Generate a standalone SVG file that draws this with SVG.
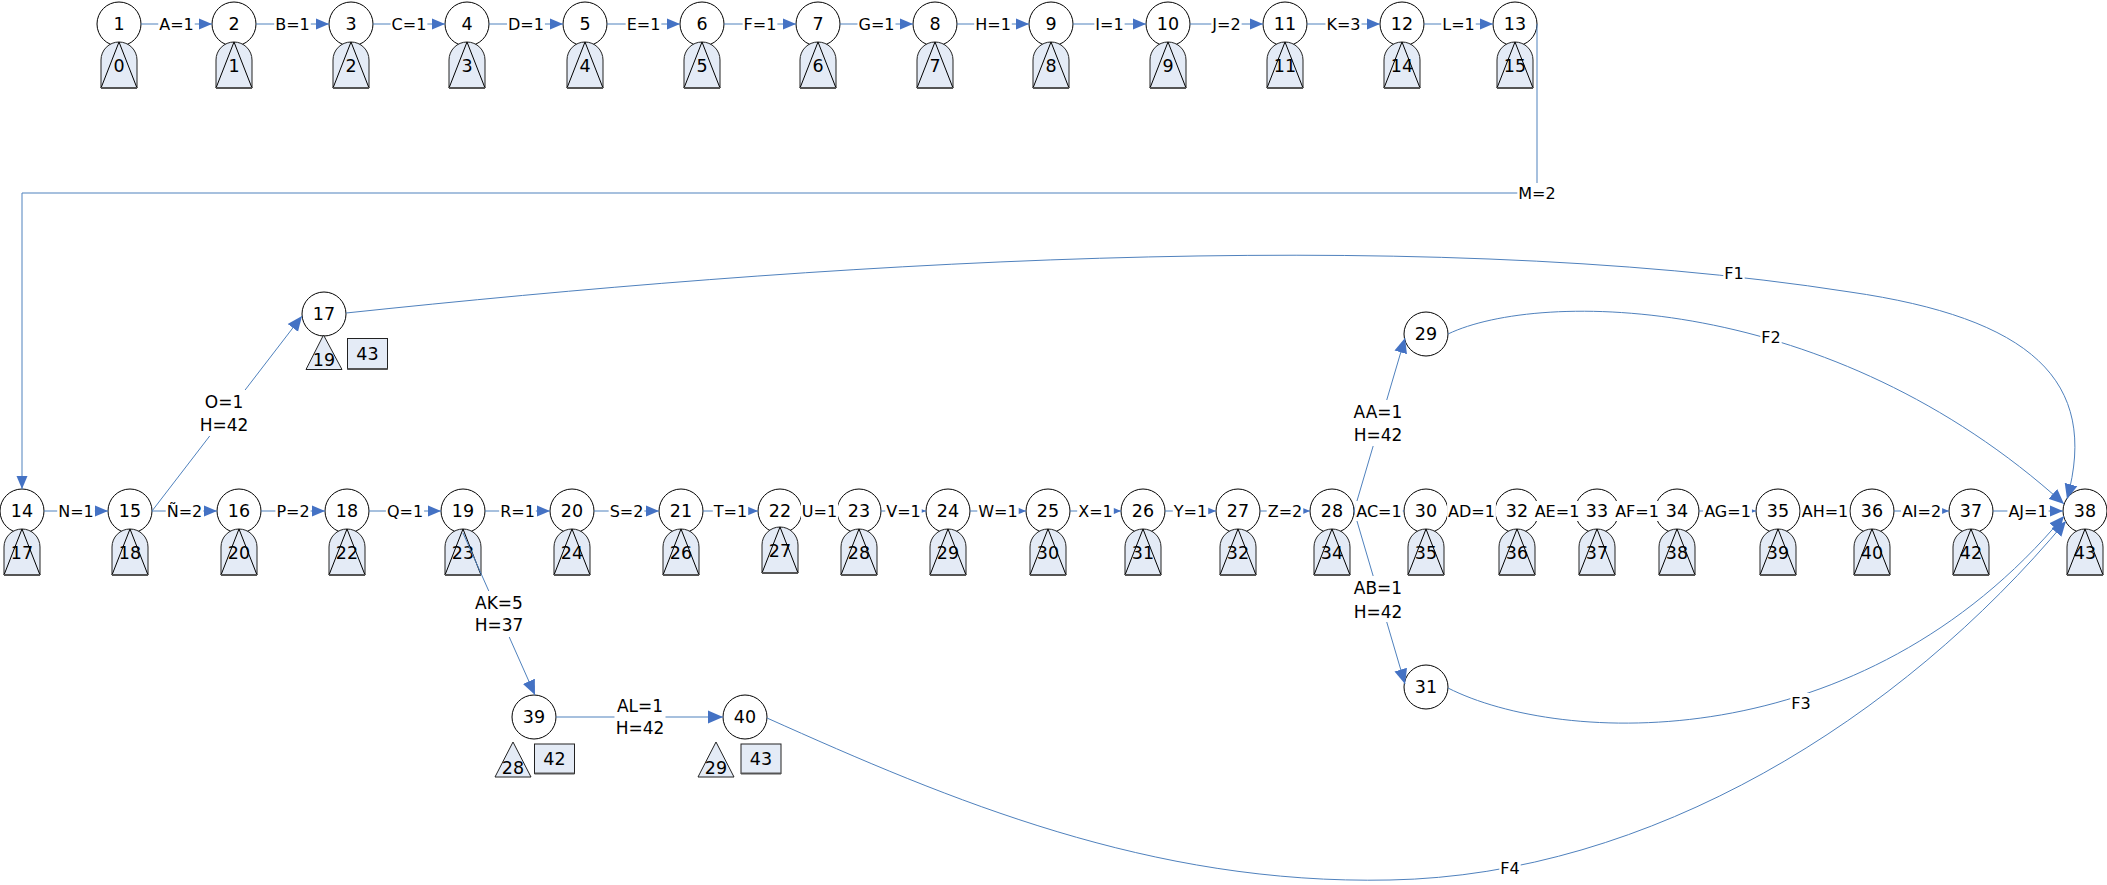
<svg xmlns="http://www.w3.org/2000/svg" xmlns:xlink="http://www.w3.org/1999/xlink" width="2107" height="885" viewBox="0 0 2107 885">
<style>
text{font-family:"DejaVu Sans","Liberation Sans",Arial,sans-serif;font-size:16px;fill:#000;text-anchor:middle}
text.n{font-size:17.5px}
text.l2{font-size:17px}
.c{fill:#fff;stroke:#000;stroke-width:1}
.tb{fill:#E4EBF6;stroke:#222;stroke-width:1}
.tl{fill:none;stroke:#000;stroke-width:1}
.sh{fill:none;stroke:#555;stroke-width:2}
.ea{fill:none;stroke:#4F81BD;stroke-width:1;marker-end:url(#ah)}
.eL{fill:none;stroke:#4F81BD;stroke-width:1;marker-end:url(#ahL)}
.lb{fill:#fff;stroke:none}
</style>
<defs>
<marker id="ah" markerUnits="userSpaceOnUse" markerWidth="14" markerHeight="12" refX="13" refY="6" orient="auto"><path d="M0,0.5 L13,6 L0,11.5 Z" fill="#4472C4"/></marker>
<marker id="ahL" markerUnits="userSpaceOnUse" markerWidth="16" markerHeight="14" refX="15" refY="7" orient="auto"><path d="M0,0.5 L15,7 L0,13.5 Z" fill="#4472C4"/></marker>
<g id="ts">
<path class="tb" d="M-18,64 V36 A18,18 0 0 1 18,36 V64 Z"/>
<path class="tl" d="M-18,64 L0,18 L18,64"/>
<path class="sh" d="M-18,64 H18"/>
</g>
</defs>
<rect width="2107" height="885" fill="#fff"/>

<!-- top row nodes -->
<g id="n1"><circle class="c" cx="119" cy="24" r="22"/><text class="n" x="119" y="30.4">1</text><use href="#ts" x="119" y="24"/><text class="n" x="119" y="71.9">0</text></g>
<g id="n2"><circle class="c" cx="234" cy="24" r="22"/><text class="n" x="234" y="30.4">2</text><use href="#ts" x="234" y="24"/><text class="n" x="234" y="71.9">1</text></g>
<g id="n3"><circle class="c" cx="351" cy="24" r="22"/><text class="n" x="351" y="30.4">3</text><use href="#ts" x="351" y="24"/><text class="n" x="351" y="71.9">2</text></g>
<g id="n4"><circle class="c" cx="467" cy="24" r="22"/><text class="n" x="467" y="30.4">4</text><use href="#ts" x="467" y="24"/><text class="n" x="467" y="71.9">3</text></g>
<g id="n5"><circle class="c" cx="585" cy="24" r="22"/><text class="n" x="585" y="30.4">5</text><use href="#ts" x="585" y="24"/><text class="n" x="585" y="71.9">4</text></g>
<g id="n6"><circle class="c" cx="702" cy="24" r="22"/><text class="n" x="702" y="30.4">6</text><use href="#ts" x="702" y="24"/><text class="n" x="702" y="71.9">5</text></g>
<g id="n7"><circle class="c" cx="818" cy="24" r="22"/><text class="n" x="818" y="30.4">7</text><use href="#ts" x="818" y="24"/><text class="n" x="818" y="71.9">6</text></g>
<g id="n8"><circle class="c" cx="935" cy="24" r="22"/><text class="n" x="935" y="30.4">8</text><use href="#ts" x="935" y="24"/><text class="n" x="935" y="71.9">7</text></g>
<g id="n9"><circle class="c" cx="1051" cy="24" r="22"/><text class="n" x="1051" y="30.4">9</text><use href="#ts" x="1051" y="24"/><text class="n" x="1051" y="71.9">8</text></g>
<g id="n10"><circle class="c" cx="1168" cy="24" r="22"/><text class="n" x="1168" y="30.4">10</text><use href="#ts" x="1168" y="24"/><text class="n" x="1168" y="71.9">9</text></g>
<g id="n11"><circle class="c" cx="1285" cy="24" r="22"/><text class="n" x="1285" y="30.4">11</text><use href="#ts" x="1285" y="24"/><text class="n" x="1285" y="71.9">11</text></g>
<g id="n12"><circle class="c" cx="1402" cy="24" r="22"/><text class="n" x="1402" y="30.4">12</text><use href="#ts" x="1402" y="24"/><text class="n" x="1402" y="71.9">14</text></g>
<g id="n13"><circle class="c" cx="1515" cy="24" r="22"/><text class="n" x="1515" y="30.4">13</text><use href="#ts" x="1515" y="24"/><text class="n" x="1515" y="71.9">15</text></g>

<!-- middle row nodes -->
<g id="n14"><circle class="c" cx="22" cy="511" r="22"/><text class="n" x="22" y="517.4">14</text><use href="#ts" x="22" y="511"/><text class="n" x="22" y="558.9">17</text></g>
<g id="n15"><circle class="c" cx="130" cy="511" r="22"/><text class="n" x="130" y="517.4">15</text><use href="#ts" x="130" y="511"/><text class="n" x="130" y="558.9">18</text></g>
<g id="n16"><circle class="c" cx="239" cy="511" r="22"/><text class="n" x="239" y="517.4">16</text><use href="#ts" x="239" y="511"/><text class="n" x="239" y="558.9">20</text></g>
<g id="n18"><circle class="c" cx="347" cy="511" r="22"/><text class="n" x="347" y="517.4">18</text><use href="#ts" x="347" y="511"/><text class="n" x="347" y="558.9">22</text></g>
<g id="n19"><circle class="c" cx="463" cy="511" r="22"/><text class="n" x="463" y="517.4">19</text><use href="#ts" x="463" y="511"/><text class="n" x="463" y="558.9">23</text></g>
<g id="n20"><circle class="c" cx="572" cy="511" r="22"/><text class="n" x="572" y="517.4">20</text><use href="#ts" x="572" y="511"/><text class="n" x="572" y="558.9">24</text></g>
<g id="n21"><circle class="c" cx="681" cy="511" r="22"/><text class="n" x="681" y="517.4">21</text><use href="#ts" x="681" y="511"/><text class="n" x="681" y="558.9">26</text></g>
<g id="n22"><circle class="c" cx="780" cy="511" r="22"/><text class="n" x="780" y="517.4">22</text><use href="#ts" x="780" y="509"/><text class="n" x="780" y="556.9">27</text></g>
<g id="n23"><circle class="c" cx="859" cy="511" r="22"/><text class="n" x="859" y="517.4">23</text><use href="#ts" x="859" y="511"/><text class="n" x="859" y="558.9">28</text></g>
<g id="n24"><circle class="c" cx="948" cy="511" r="22"/><text class="n" x="948" y="517.4">24</text><use href="#ts" x="948" y="511"/><text class="n" x="948" y="558.9">29</text></g>
<g id="n25"><circle class="c" cx="1048" cy="511" r="22"/><text class="n" x="1048" y="517.4">25</text><use href="#ts" x="1048" y="511"/><text class="n" x="1048" y="558.9">30</text></g>
<g id="n26"><circle class="c" cx="1143" cy="511" r="22"/><text class="n" x="1143" y="517.4">26</text><use href="#ts" x="1143" y="511"/><text class="n" x="1143" y="558.9">31</text></g>
<g id="n27"><circle class="c" cx="1238" cy="511" r="22"/><text class="n" x="1238" y="517.4">27</text><use href="#ts" x="1238" y="511"/><text class="n" x="1238" y="558.9">32</text></g>
<g id="n28"><circle class="c" cx="1332" cy="511" r="22"/><text class="n" x="1332" y="517.4">28</text><use href="#ts" x="1332" y="511"/><text class="n" x="1332" y="558.9">34</text></g>
<g id="n30"><circle class="c" cx="1426" cy="511" r="22"/><text class="n" x="1426" y="517.4">30</text><use href="#ts" x="1426" y="511"/><text class="n" x="1426" y="558.9">35</text></g>
<g id="n32"><circle class="c" cx="1517" cy="511" r="22"/><text class="n" x="1517" y="517.4">32</text><use href="#ts" x="1517" y="511"/><text class="n" x="1517" y="558.9">36</text></g>
<g id="n33"><circle class="c" cx="1597" cy="511" r="22"/><text class="n" x="1597" y="517.4">33</text><use href="#ts" x="1597" y="511"/><text class="n" x="1597" y="558.9">37</text></g>
<g id="n34"><circle class="c" cx="1677" cy="511" r="22"/><text class="n" x="1677" y="517.4">34</text><use href="#ts" x="1677" y="511"/><text class="n" x="1677" y="558.9">38</text></g>
<g id="n35"><circle class="c" cx="1778" cy="511" r="22"/><text class="n" x="1778" y="517.4">35</text><use href="#ts" x="1778" y="511"/><text class="n" x="1778" y="558.9">39</text></g>
<g id="n36"><circle class="c" cx="1872" cy="511" r="22"/><text class="n" x="1872" y="517.4">36</text><use href="#ts" x="1872" y="511"/><text class="n" x="1872" y="558.9">40</text></g>
<g id="n37"><circle class="c" cx="1971" cy="511" r="22"/><text class="n" x="1971" y="517.4">37</text><use href="#ts" x="1971" y="511"/><text class="n" x="1971" y="558.9">42</text></g>
<g id="n38"><circle class="c" cx="2085" cy="511" r="22"/><text class="n" x="2085" y="517.4">38</text><use href="#ts" x="2085" y="511"/><text class="n" x="2085" y="558.9">43</text></g>

<!-- branch nodes -->
<g id="n17"><circle class="c" cx="324" cy="314" r="22"/><text class="n" x="324" y="320.4">17</text>
<path class="tb" d="M323.5,335 L306,369.5 L342,369.5 Z"/><text class="n" x="324" y="366.4">19</text>
<rect class="tb" x="347.5" y="338.5" width="40" height="30.5"/><path class="sh" d="M347.5,369 H387.5"/><text class="n" x="367.5" y="359.9">43</text></g>
<g id="n29"><circle class="c" cx="1426" cy="334" r="22"/><text class="n" x="1426" y="340.4">29</text></g>
<g id="n31"><circle class="c" cx="1426" cy="687" r="22"/><text class="n" x="1426" y="693.4">31</text></g>
<g id="n39"><circle class="c" cx="534" cy="717" r="22"/><text class="n" x="534" y="723.4">39</text>
<path class="tb" d="M513,742 L495,777 L531,777 Z"/><text class="n" x="513" y="774.4">28</text>
<rect class="tb" x="534.5" y="744" width="40" height="29.5"/><path class="sh" d="M534.5,773.5 H574.5"/><text class="n" x="554.5" y="765.4">42</text></g>
<g id="n40"><circle class="c" cx="745" cy="717" r="22"/><text class="n" x="745" y="723.4">40</text>
<path class="tb" d="M716,742 L698,777 L734,777 Z"/><text class="n" x="716" y="774.4">29</text>
<rect class="tb" x="741" y="744" width="40" height="29.5"/><path class="sh" d="M741,773.5 H781"/><text class="n" x="761" y="765.4">43</text></g>

<!-- connectors -->
<g id="connectors">
<path class="ea" d="M141,24 H212"/>
<path class="ea" d="M256,24 H329"/>
<path class="ea" d="M373,24 H445"/>
<path class="ea" d="M489,24 H563"/>
<path class="ea" d="M607,24 H680"/>
<path class="ea" d="M724,24 H796"/>
<path class="ea" d="M840,24 H913"/>
<path class="ea" d="M957,24 H1029"/>
<path class="ea" d="M1073,24 H1146"/>
<path class="ea" d="M1190,24 H1263"/>
<path class="ea" d="M1307,24 H1380"/>
<path class="ea" d="M1424,24 H1493"/>
<path class="ea" d="M1537,24 V193 H22 V489"/>

<path class="ea" d="M44,511 H108"/>
<path class="ea" d="M152,511 H217"/>
<path class="ea" d="M261,511 H325"/>
<path class="ea" d="M369,511 H441"/>
<path class="ea" d="M485,511 H550"/>
<path class="ea" d="M594,511 H659"/>
<path class="ea" d="M703,511 H758"/>
<path class="ea" d="M802,511 H837"/>
<path class="ea" d="M881,511 H926"/>
<path class="ea" d="M970,511 H1026"/>
<path class="ea" d="M1070,511 H1121"/>
<path class="ea" d="M1165,511 H1216"/>
<path class="ea" d="M1260,511 H1310"/>
<path class="ea" d="M1354,511 H1404"/>
<path class="ea" d="M1448,511 H1495"/>
<path class="ea" d="M1539,511 H1575"/>
<path class="ea" d="M1619,511 H1655"/>
<path class="ea" d="M1699,511 H1756"/>
<path class="ea" d="M1800,511 H1850"/>
<path class="ea" d="M1894,511 H1949"/>
<path class="ea" d="M1993,511 H2063"/>

<path class="eL" d="M152,511 L302,316"/>
<path class="eL" d="M463,533 L535,695"/>
<path class="eL" d="M556,717 H723"/>
<path class="eL" d="M1354,511 L1405,338"/>
<path class="eL" d="M1354,511 L1405,684"/>
<path class="eL" d="M346,313 C800,265 1400,222 1850,292 C2030,318 2100,380 2067,499"/>
<path class="eL" d="M1448,334 C1540,290 1830,292 2064,504"/>
<path class="eL" d="M1448,688 C1560,745 1860,760 2064,516"/>
<path class="eL" d="M767,718 C950,800 1150,885 1390,880 C1650,875 1900,720 2066,521"/>

<!-- labels -->
<rect class="lb" x="158.25" y="14" width="36.5" height="20"/><text x="176.5" y="29.8">A=1</text>
<rect class="lb" x="274.2" y="14" width="36.6" height="20"/><text x="292.5" y="29.8">B=1</text>
<rect class="lb" x="390.6" y="14" width="36.8" height="20"/><text x="409" y="29.8">C=1</text>
<rect class="lb" x="507.05" y="14" width="37.9" height="20"/><text x="526" y="29.8">D=1</text>
<rect class="lb" x="625.65" y="14" width="35.7" height="20"/><text x="643.5" y="29.8">E=1</text>
<rect class="lb" x="742.6" y="14" width="34.8" height="20"/><text x="760" y="29.8">F=1</text>
<rect class="lb" x="857.5" y="14" width="38" height="20"/><text x="876.5" y="29.8">G=1</text>
<rect class="lb" x="974.2" y="14" width="37.6" height="20"/><text x="993" y="29.8">H=1</text>
<rect class="lb" x="1094.35" y="14" width="30.3" height="20"/><text x="1109.5" y="29.8">I=1</text>
<rect class="lb" x="1211.35" y="14" width="30.3" height="20"/><text x="1226.5" y="29.8">J=2</text>
<rect class="lb" x="1325.45" y="14" width="36.1" height="20"/><text x="1343.5" y="29.8">K=3</text>
<rect class="lb" x="1441.25" y="14" width="34.5" height="20"/><text x="1458.5" y="29.8">L=1</text>
<rect class="lb" x="1517.3" y="183" width="39.4" height="20"/><text x="1537" y="198.8">M=2</text>

<rect class="lb" x="57.2" y="501" width="37.6" height="20"/><text x="76" y="516.8">N=1</text>
<rect class="lb" x="165.7" y="501" width="37.6" height="20"/><text x="184.5" y="516.8">Ñ=2</text>
<rect class="lb" x="275.4" y="501" width="35.2" height="20"/><text x="293" y="516.8">P=2</text>
<rect class="lb" x="385.9" y="501" width="38.2" height="20"/><text x="405" y="516.8">Q=1</text>
<rect class="lb" x="499.15" y="501" width="36.7" height="20"/><text x="517.5" y="516.8">R=1</text>
<rect class="lb" x="608.65" y="501" width="35.7" height="20"/><text x="626.5" y="516.8">S=2</text>
<rect class="lb" x="712.8" y="501" width="35.4" height="20"/><text x="730.5" y="516.8">T=1</text>
<rect class="lb" x="800.85" y="501" width="37.3" height="20"/><text x="819.5" y="516.8">U=1</text>
<rect class="lb" x="885.25" y="501" width="36.5" height="20"/><text x="903.5" y="516.8">V=1</text>
<rect class="lb" x="977.3" y="501" width="41.4" height="20"/><text x="998" y="516.8">W=1</text>
<rect class="lb" x="1077.2" y="501" width="36.6" height="20"/><text x="1095.5" y="516.8">X=1</text>
<rect class="lb" x="1172.8" y="501" width="35.4" height="20"/><text x="1190.5" y="516.8">Y=1</text>
<rect class="lb" x="1266.7" y="501" width="36.6" height="20"/><text x="1285" y="516.8">Z=2</text>
<rect class="lb" x="1355.15" y="501" width="47.7" height="20"/><text x="1379" y="516.8">AC=1</text>
<rect class="lb" x="1447.1" y="501" width="48.8" height="20"/><text x="1471.5" y="516.8">AD=1</text>
<rect class="lb" x="1533.7" y="501" width="46.6" height="20"/><text x="1557" y="516.8">AE=1</text>
<rect class="lb" x="1614.15" y="501" width="45.7" height="20"/><text x="1637" y="516.8">AF=1</text>
<rect class="lb" x="1703.05" y="501" width="48.9" height="20"/><text x="1727.5" y="516.8">AG=1</text>
<rect class="lb" x="1800.7" y="501" width="48.6" height="20"/><text x="1825" y="516.8">AH=1</text>
<rect class="lb" x="1900.9" y="501" width="41.2" height="20"/><text x="1921.5" y="516.8">AI=2</text>
<rect class="lb" x="2007.4" y="501" width="41.2" height="20"/><text x="2028" y="516.8">AJ=1</text>

<rect class="lb" x="198.5" y="390" width="51" height="46"/><text class="l2" x="224" y="408.2">O=1</text><text class="l2" x="224" y="431.2">H=42</text>
<rect class="lb" x="473.5" y="591" width="51" height="46"/><text class="l2" x="499" y="609.2">AK=5</text><text class="l2" x="499" y="631.2">H=37</text>
<rect class="lb" x="614.5" y="694" width="51" height="46"/><text class="l2" x="640" y="712.2">AL=1</text><text class="l2" x="640" y="734.2">H=42</text>
<rect class="lb" x="1352.5" y="400" width="51" height="46"/><text class="l2" x="1378" y="418.2">AA=1</text><text class="l2" x="1378" y="441.2">H=42</text>
<rect class="lb" x="1352.5" y="576" width="51" height="46"/><text class="l2" x="1378" y="594.2">AB=1</text><text class="l2" x="1378" y="618.2">H=42</text>
<rect class="lb" x="1723.3" y="263" width="21.4" height="20"/><text x="1734" y="278.8">F1</text>
<rect class="lb" x="1760.3" y="327" width="21.4" height="20"/><text x="1771" y="342.8">F2</text>
<rect class="lb" x="1790.3" y="693" width="21.4" height="20"/><text x="1801" y="708.8">F3</text>
<rect class="lb" x="1499.3" y="858" width="21.4" height="20"/><text x="1510" y="873.8">F4</text>
</g>
</svg>
